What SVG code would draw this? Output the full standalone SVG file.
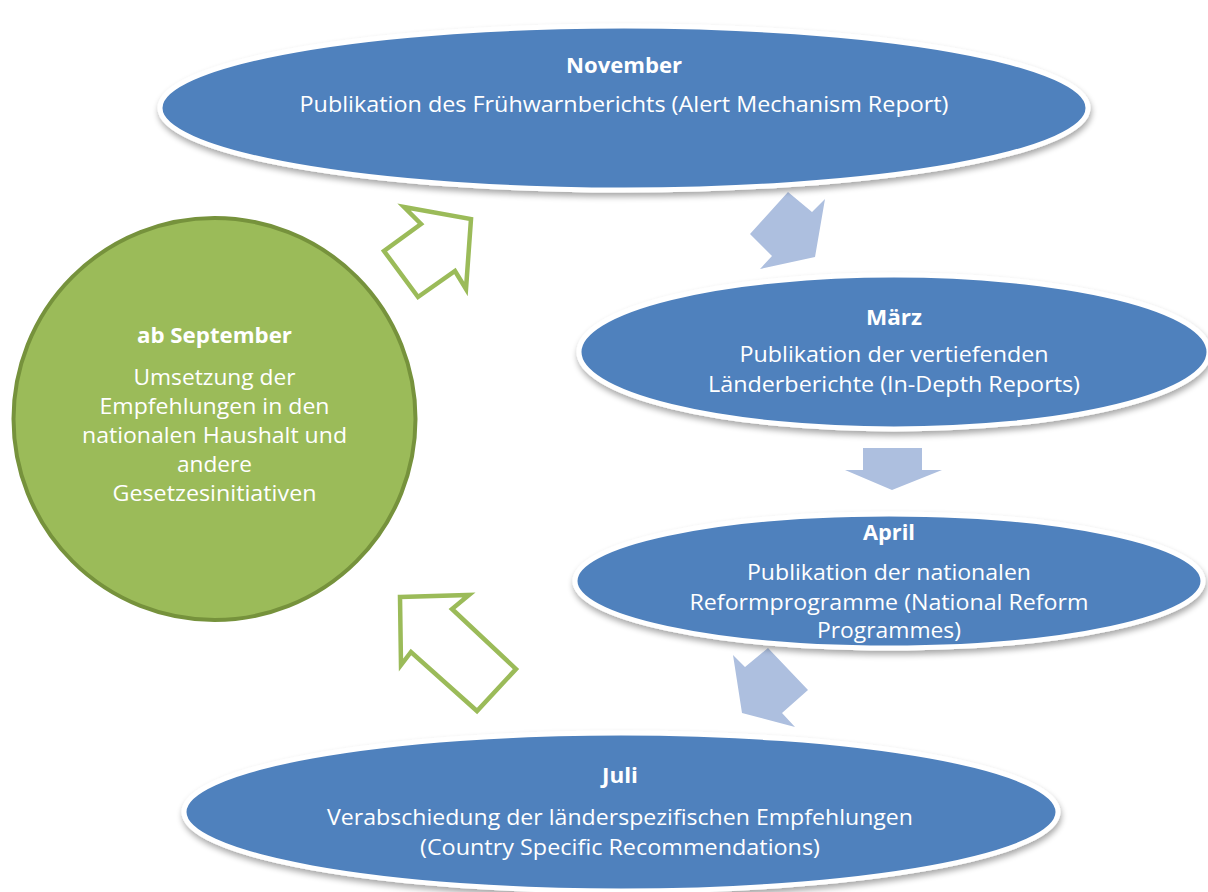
<svg xmlns="http://www.w3.org/2000/svg" width="1208" height="892" viewBox="0 0 1208 892">
<defs>
<filter id="sh" x="-10%" y="-20%" width="120%" height="150%">
<feGaussianBlur in="SourceAlpha" stdDeviation="3"/>
<feOffset dx="1" dy="4" result="b"/>
<feComponentTransfer><feFuncA type="linear" slope="0.35"/></feComponentTransfer>
<feMerge><feMergeNode/><feMergeNode in="SourceGraphic"/></feMerge>
</filter>
<style>
.ell{fill:#4F81BD;stroke:#FFFFFF;stroke-width:5}
.circ{fill:#9BBB59;stroke:#76923C;stroke-width:4}
.t{font-family:"Open Sans","Noto Sans","DejaVu Sans",sans-serif;font-size:21px;fill:#FFFFFF;text-anchor:middle}
.b{font-weight:bold}
.ba{fill:#ADBFDF;stroke:none}
.ga{fill:#FFFFFF;stroke:#9BBB59;stroke-width:4.5;stroke-linejoin:miter}
</style>
</defs>
<rect width="1208" height="892" fill="#FFFFFF"/>

<g id="connectors">
<polygon class="ba" points="788,192 812,212 825,199 815,257 760,269 772,256 750,234"/>
<polygon class="ba" points="863,448 922,448 922,470 942,470 892,490 845,470 863,470"/>
<polygon class="ba" points="768,648 808,690 782,713 795,727 742,713 733,655 745,667"/>
<polygon class="ga" points="404,207 471,219 466,289 455,271 418,297 384,251 421,224"/>
<polygon class="ga" points="400,597 469,595 452,609 516,669 477,711 411,652 401,665"/>
</g>

<g id="november">
<ellipse class="ell" cx="624" cy="108" rx="464" ry="82" filter="url(#sh)"/>
<text class="t b" x="624" y="73" textLength="116" lengthAdjust="spacingAndGlyphs">November</text>
<text class="t" x="624" y="112" textLength="649" lengthAdjust="spacingAndGlyphs">Publikation des Frühwarnberichts (Alert Mechanism Report)</text>
</g>

<g id="maerz">
<ellipse class="ell" cx="894" cy="352" rx="315" ry="77" filter="url(#sh)"/>
<text class="t b" x="894" y="325" textLength="56" lengthAdjust="spacingAndGlyphs">März</text>
<text class="t" x="894" y="362" textLength="309" lengthAdjust="spacingAndGlyphs">Publikation der vertiefenden</text>
<text class="t" x="894" y="392" textLength="372" lengthAdjust="spacingAndGlyphs">Länderberichte (In-Depth Reports)</text>
</g>

<g id="april">
<ellipse class="ell" cx="889" cy="581" rx="314" ry="67" filter="url(#sh)"/>
<text class="t b" x="889" y="540" textLength="52" lengthAdjust="spacingAndGlyphs">April</text>
<text class="t" x="889" y="580" textLength="284" lengthAdjust="spacingAndGlyphs">Publikation der nationalen</text>
<text class="t" x="889" y="610" textLength="399" lengthAdjust="spacingAndGlyphs">Reformprogramme (National Reform</text>
<text class="t" x="889" y="638" textLength="144" lengthAdjust="spacingAndGlyphs">Programmes)</text>
</g>

<g id="juli">
<ellipse class="ell" cx="621" cy="812" rx="437" ry="79" filter="url(#sh)"/>
<text class="t b" x="620" y="783" textLength="36" lengthAdjust="spacingAndGlyphs">Juli</text>
<text class="t" x="620" y="825" textLength="586" lengthAdjust="spacingAndGlyphs">Verabschiedung der länderspezifischen Empfehlungen</text>
<text class="t" x="620" y="855" textLength="400" lengthAdjust="spacingAndGlyphs">(Country Specific Recommendations)</text>
</g>

<g id="september">
<circle class="circ" cx="214.5" cy="419" r="201"/>
<text class="t b" x="214.5" y="343" textLength="155" lengthAdjust="spacingAndGlyphs">ab September</text>
<text class="t" x="214.5" y="385" textLength="162" lengthAdjust="spacingAndGlyphs">Umsetzung der</text>
<text class="t" x="214.5" y="414" textLength="230" lengthAdjust="spacingAndGlyphs">Empfehlungen in den</text>
<text class="t" x="214.5" y="443" textLength="265" lengthAdjust="spacingAndGlyphs">nationalen Haushalt und</text>
<text class="t" x="214.5" y="472" textLength="75" lengthAdjust="spacingAndGlyphs">andere</text>
<text class="t" x="214.5" y="501" textLength="204" lengthAdjust="spacingAndGlyphs">Gesetzesinitiativen</text>
</g>
</svg>
